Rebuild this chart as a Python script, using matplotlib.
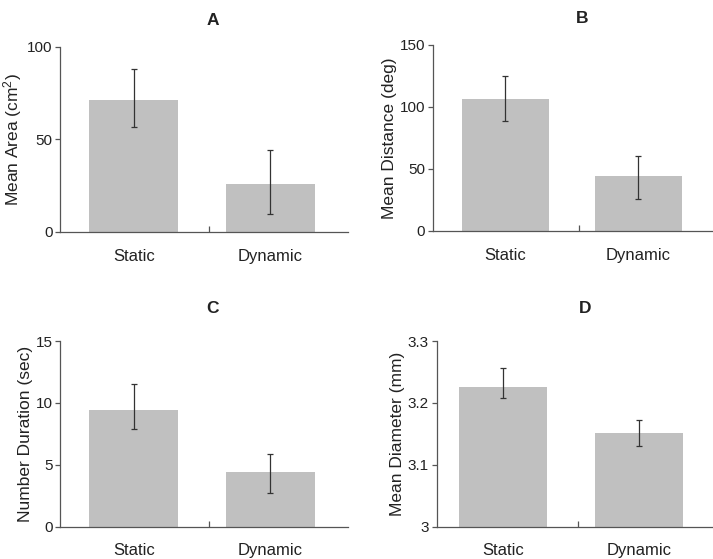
import matplotlib
matplotlib.use('Agg')
from matplotlib import pyplot as plt

plt.rcParams['font.family'] = ['Liberation Sans', 'DejaVu Sans']
plt.rcParams['mathtext.fontset'] = 'custom'
plt.rcParams['mathtext.rm'] = 'Liberation Sans'
plt.rcParams['mathtext.it'] = 'Liberation Sans:italic'

conditions = ['Static', 'Dynamic']

area_mean = [71.4, 25.8]
area_lo = [57.0, 9.6]
area_hi = [88.1, 44.3]

dist_mean = [106.4, 44.4]
dist_lo = [88.9, 25.6]
dist_hi = [124.7, 60.1]

dur_mean = [9.43, 4.39]
dur_lo = [7.87, 2.70]
dur_hi = [11.55, 5.85]

diam_mean = [3.226, 3.152]
diam_lo = [3.208, 3.130]
diam_hi = [3.256, 3.172]

panels = [
    ('A', 'Mean Area (cm$^2$)', area_mean, area_lo, area_hi, (0, 100), [0, 50, 100], ['0', '50', '100']),
    ('B', 'Mean Distance (deg)', dist_mean, dist_lo, dist_hi, (0, 150), [0, 50, 100, 150], ['0', '50', '100', '150']),
    ('C', 'Number Duration (sec)', dur_mean, dur_lo, dur_hi, (0, 15), [0, 5, 10, 15], ['0', '5', '10', '15']),
    ('D', 'Mean Diameter (mm)', diam_mean, diam_lo, diam_hi, (3.0, 3.3), [3.0, 3.1, 3.2, 3.3], ['3', '3.1', '3.2', '3.3']),
]

# axes rectangles in figure fractions, x range and title pad per panel
rects = [
    [0.0842, 0.585, 0.404, 0.331],
    [0.607, 0.587, 0.394, 0.3325],
    [0.0842, 0.0578, 0.404, 0.332],
    [0.6125, 0.0578, 0.392, 0.332],
]
xlims = [(-0.54, 1.57), (-0.545, 1.565), (-0.54, 1.57), (-0.49, 1.57)]
tpads = [16, 16, 20, 20]

text_col = '#222222'
axis_col = '#555555'

fig = plt.figure(figsize=(7.13, 5.59), dpi=100)

for (letter, ylab, mean, lo, hi, ylim, yt, ytl), rect, xl, tp in zip(panels, rects, xlims, tpads):
    ax = fig.add_axes(rect)
    x = list(range(len(conditions)))
    err = [[m - l for m, l in zip(mean, lo)], [h - m for m, h in zip(mean, hi)]]
    ax.bar(x, [m - ylim[0] for m in mean], bottom=ylim[0], width=0.65,
           color='#c0c0c0', zorder=1)
    ax.errorbar(x, mean, yerr=err, fmt='none', ecolor='#333333',
                elinewidth=0.9, capsize=2.2, capthick=0.9, zorder=2)
    ax.set_xlim(*xl)
    ax.set_ylim(*ylim)
    ax.set_yticks(yt)
    ax.set_yticklabels(ytl)
    ax.set_xticks(x)
    ax.set_xticklabels(conditions)
    ax.set_xticks([0.55], minor=True)
    ax.tick_params(axis='x', which='major', length=0, pad=12,
                   labelsize=12, labelcolor=text_col)
    ax.tick_params(axis='x', which='minor', direction='in', length=4,
                   width=0.9, color=axis_col)
    ax.tick_params(axis='y', direction='out', length=3.5, width=0.9,
                   color=axis_col, labelsize=11, labelcolor=text_col, pad=2)
    for side in ['top', 'right']:
        ax.spines[side].set_visible(False)
    for side in ['left', 'bottom']:
        ax.spines[side].set_color(axis_col)
        ax.spines[side].set_linewidth(0.9)
    ax.set_ylabel(ylab, fontsize=12.5, color=text_col, labelpad=2)
    ax.set_title(letter, fontsize=12.5, fontweight='bold', color=text_col,
                 x=0.53, pad=tp)

fig.savefig('out.png', dpi=100)
